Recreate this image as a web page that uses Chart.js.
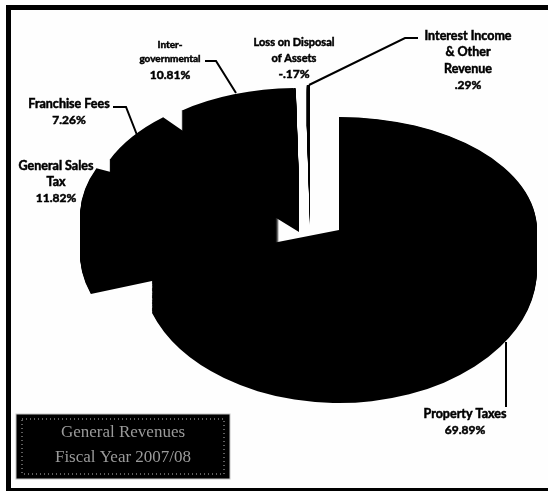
<!DOCTYPE html>
<html>
<head>
<meta charset="utf-8">
<title>General Revenues</title>
<script src="https://cdn.jsdelivr.net/npm/chart.js@4"></script>
<style>
  html, body { margin: 0; background: #fefefe; }
  #wrap { position: relative; width: 548px; height: 491px; overflow: hidden; }
  #revChart { position: absolute; left: 0; top: 0; }
  #frame { position: absolute; left: 6px; top: 5px; right: -6px; bottom: 0; box-sizing: border-box;
    border: solid #000; border-width: 5px 0 3px 5px; pointer-events: none; }
</style>
</head>
<body>
<div id="wrap">
  <canvas id="revChart" width="548" height="491"></canvas>
  <div id="frame"></div>
</div>
<script>
const categories = ["Property Taxes", "General Sales Tax", "Franchise Fees", "Intergovernmental", "Loss on Disposal of Assets", "Interest Income & Other Revenue"];
const shares = [69.89, 11.82, 7.26, 10.81, -0.17, 0.29];
const shareLabels = ["69.89%", "11.82%", "7.26%", "10.81%", "-.17%", ".29%"];
const wrappedNames = [
  ["Property Taxes"],
  ["General Sales", "Tax"],
  ["Franchise Fees"],
  ["Inter-", "governmental"],
  ["Loss on Disposal", "of Assets"],
  ["Interest Income", "& Other", "Revenue"]
];
const titleLines = ["General Revenues", "Fiscal Year 2007/08"];

// every slice is a squashed, extruded sector: [x, y, rx, ry] of its upper and lower face
const faces = [
  { up: [339, 230, 198, 113], down: [339, 269, 198, 134] },
  { up: [279, 216, 199, 120], down: [279, 254, 199, 123] },
  { up: [293, 207, 200, 118], down: [293, 222, 200, 118] },
  { up: [299, 183, 181, 95], down: [299, 232, 181, 95] },
  { up: [299, 183, 181, 95], down: [299, 232, 181, 95] },
  { up: [310, 185, 181, 100], down: [310, 225, 181, 100] }
];

// label centre and first row, then the leader polyline
const callouts = [
  { x: 465, y: 414, size: 12.5, leader: [[506, 342], [506, 407]] },
  { x: 56, y: 166, size: 12.5, leader: null },
  { x: 69, y: 104, size: 12.5, leader: [[113, 107], [126, 107], [137, 135]] },
  { x: 170, y: 45, size: 10, leader: [[205, 61], [216, 61], [236, 93]] },
  { x: 294, y: 42, size: 11, leader: null },
  { x: 468, y: 36, size: 12.5, leader: [[418, 38], [405, 38], [309, 85]] }
];

const extrudedPie = {
  id: "extrudedPie",
  beforeDatasetsDraw(chart) {
    const ctx = chart.ctx;
    chart.getDatasetMeta(0).data.forEach((arc, i) => {
      const f = faces[i];
      const steps = Math.ceil(f.down[1] - f.up[1]);
      for (let s = 0; s <= steps; s++) {
        const t = s / steps;
        const [x, y, rx, ry] = f.up.map((v, k) => v + (f.down[k] - v) * t);
        ctx.save();
        ctx.translate(x, y);
        ctx.scale(rx / arc.outerRadius, ry / arc.outerRadius);
        ctx.translate(-arc.x, -arc.y);
        arc.draw(ctx);
        ctx.restore();
      }
    });
    return false;
  },
  afterDraw(chart) {
    const ctx = chart.ctx;
    ctx.save();
    ctx.textAlign = "center";
    ctx.textBaseline = "middle";
    ctx.fillStyle = "#000";
    ctx.strokeStyle = "#000";
    callouts.forEach((c, i) => {
      const rows = wrappedNames[i].concat(shareLabels[i]);
      rows.forEach((row, r) => {
        // the value row keeps the normal size even when the name is set smaller
        const size = r === rows.length - 1 ? 12 : c.size;
        ctx.font = "bold " + size + "px Lato";
        ctx.lineWidth = 0.5;
        const y = c.y + (i === 3 ? [0, 14, 30][r] : r * 16.3);
        ctx.fillText(row, c.x, y);
        ctx.strokeText(row, c.x, y);
      });
      if (c.leader) {
        ctx.lineWidth = 2;
        ctx.beginPath();
        c.leader.forEach((p, k) => k ? ctx.lineTo(p[0], p[1]) : ctx.moveTo(p[0], p[1]));
        ctx.stroke();
      }
    });

    // title box bottom left
    ctx.fillStyle = "#000";
    ctx.fillRect(16, 414, 214, 65);
    ctx.strokeStyle = "#c4c4c4";
    ctx.lineWidth = 1;
    ctx.strokeRect(16, 414, 214, 65);
    ctx.strokeStyle = "#bbb";
    ctx.setLineDash([1, 3]);
    ctx.strokeRect(22, 419, 202, 55);
    ctx.setLineDash([]);
    ctx.fillStyle = "#9a9a9a";
    ctx.font = "17px 'Liberation Serif'";
    ctx.fillText(titleLines[0], 123, 433);
    ctx.fillText(titleLines[1], 123, 458);
    ctx.restore();
  }
};

new Chart(document.getElementById("revChart"), {
  type: "pie",
  data: {
    labels: categories,
    datasets: [{
      data: shares,
      backgroundColor: "#000",
      borderWidth: 0
    }]
  },
  options: {
    responsive: false,
    animation: false,
    plugins: { legend: { display: false }, tooltip: { enabled: false } }
  },
  plugins: [extrudedPie]
});
</script>
</body>
</html>
